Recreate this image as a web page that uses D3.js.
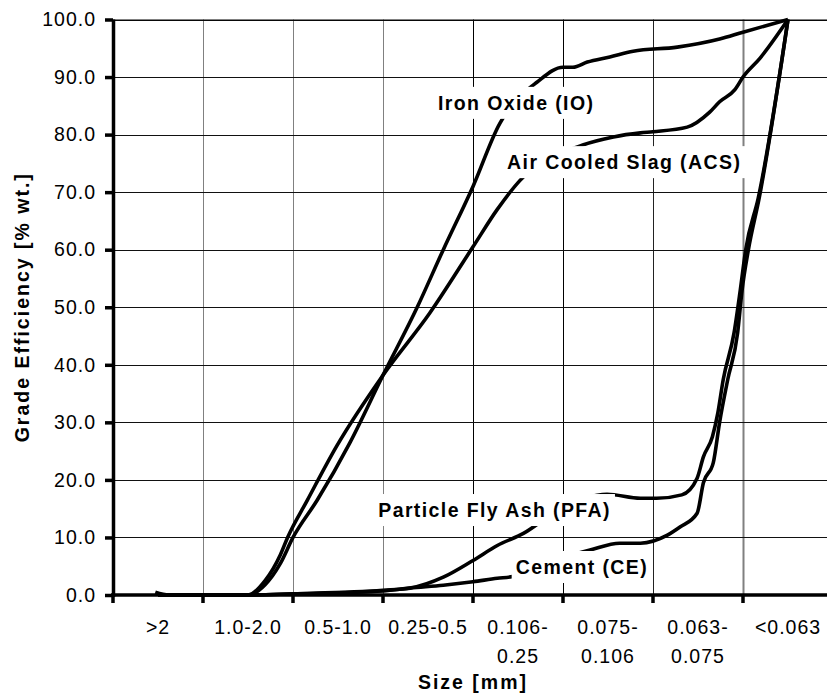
<!DOCTYPE html>
<html>
<head>
<meta charset="utf-8">
<script src="https://cdn.jsdelivr.net/npm/d3@7"></script>
<style>
  body { margin: 0; background: #fff; overflow: hidden; }
  svg { display: block; }
  text { font-family: "Liberation Sans", Arial, sans-serif; }
</style>
</head>
<body>
<svg id="chart"></svg>
<script>
// size classes on the x axis (multi-line labels as arrays)
const tickLabels = [[">2"], ["1.0-2.0"], ["0.5-1.0"], ["0.25-0.5"], ["0.106-", "0.25"], ["0.075-", "0.106"], ["0.063-", "0.075"], ["<0.063"]]
const yTicks = [0, 10, 20, 30, 40, 50, 60, 70, 80, 90, 100]

// positions are in category units (0 = ">2", 7 = "<0.063"), values in % wt.
const ioPos  = [0, 1, 1.19, 1.36, 1.5, 1.77, 2.13, 2.5, 2.88, 3.17, 3.5, 3.8, 3.88, 4.21, 4.5, 4.61, 4.77, 5.02, 5.28, 5.77, 6.24, 6.5, 7]
const ioVal  = [0, 0, 1.8, 5.5, 10, 16.5, 26.4, 38.2, 50, 60, 71, 82, 84, 89.1, 91.7, 91.7, 92.6, 93.5, 94.5, 95.2, 96.6, 97.8, 100]

const acsPos = [0, 1, 1.19, 1.36, 1.44, 1.66, 1.99, 2.5, 3.02, 3.5, 3.77, 4.02, 4.72, 5.06, 5.36, 5.5, 5.88, 6.13, 6.24, 6.41, 6.5, 6.69, 7]
const acsVal = [0, 0, 2.5, 7, 10, 16.5, 26, 38.2, 49, 60.5, 67, 72, 78.2, 79.6, 80.3, 80.5, 81.3, 83.9, 85.7, 87.8, 90, 93.3, 100]

const pfaPos = [0, 1, 1.5, 2.5, 2.8, 3.17, 3.5, 3.77, 4.06, 4.47, 4.99, 5.36, 5.54, 5.82, 5.99, 6.06, 6.16, 6.22, 6.28, 6.4, 6.47, 6.53, 6.67, 7]
const pfaVal = [0, 0, 0.2, 0.8, 1.2, 3.1, 6, 8.6, 10.7, 15, 17.5, 16.8, 16.8, 17.4, 20.3, 24, 27.5, 31.6, 37.4, 45.5, 53, 60, 69, 100]

const cePos  = [-0.03, 0.12, 1, 1.5, 2.5, 2.8, 3.17, 3.5, 3.77, 3.94, 4.3, 4.8, 5.13, 5.36, 5.66, 5.8, 5.99, 6.06, 6.17, 6.24, 6.33, 6.44, 6.49, 6.56, 6.68, 7]
const ceVal  = [0.5, 0, 0, 0.2, 0.7, 1.2, 1.7, 2.3, 2.9, 3.2, 5.5, 7.8, 9, 9, 10.4, 11.8, 14.2, 19.5, 23, 30, 37.4, 45.5, 53, 60, 69, 100]

// series label text and where it sits (category units, % wt. at baseline)
const seriesNames = ["Iron Oxide (IO)", "Air Cooled Slag (ACS)", "Particle Fly Ash (PFA)", "Cement (CE)"]
const labelPos = [3.98, 5.18, 3.74, 4.71]
const labelVal = [84.3, 74.0, 13.55, 3.65]

const width = 827
const height = 695
const margin = {top: 19.5, left: 113, bottom: 100}
const plotRight = 833   // plot area runs a bit past the picture edge

const svg = d3.select("#chart")
    .attr("width", width)
    .attr("height", height)
    .attr("viewBox", [0, 0, width, height])

const x = d3.scaleLinear().domain([-0.5, 7.5]).range([margin.left, plotRight])
const y = d3.scaleLinear().domain([0, 100]).range([height - margin.bottom, margin.top])

// grid
const vGridColor = ["#808080", "#808080", "#808080", "#000", "#000", "#222", "#808080"]
svg.append("g")
  .selectAll("line")
  .data(d3.range(1, 8).map(i => i - 0.5))
  .join("line")
    .attr("x1", d => Math.round(x(d)) + 0.5)
    .attr("x2", d => Math.round(x(d)) + 0.5)
    .attr("y1", y(100))
    .attr("y2", y(0))
    .attr("stroke", (d, i) => vGridColor[i])
    .attr("stroke-width", (d, i) => i == 6 ? 2 : 1)

svg.append("g")
  .selectAll("line")
  .data(yTicks.slice(1))
  .join("line")
    .attr("x1", margin.left)
    .attr("x2", plotRight)
    .attr("y1", d => Math.round(y(d)) + 0.5)
    .attr("y2", d => Math.round(y(d)) + 0.5)
    .attr("stroke", "#111")

// curves
const series = [
  d3.zip(ioPos, ioVal),
  d3.zip(acsPos, acsVal),
  d3.zip(pfaPos, pfaVal),
  d3.zip(cePos, ceVal)
]

const line = d3.line()
    .x(d => x(d[0]))
    .y(d => y(d[1]))
    .curve(d3.curveMonotoneX)

svg.append("g")
  .selectAll("path")
  .data(series)
  .join("path")
    .attr("d", line)
    .attr("fill", "none")
    .attr("stroke", "#000")
    .attr("stroke-width", 3.6)
    .attr("stroke-linejoin", "round")

// series labels on white boxes
const labels = svg.append("g")
  .selectAll("g")
  .data(seriesNames)
  .join("g")

labels.append("rect").attr("fill", "#fff")
labels.append("text")
    .attr("x", (d, i) => x(labelPos[i]))
    .attr("y", (d, i) => y(labelVal[i]))
    .attr("text-anchor", "middle")
    .attr("font-size", 19.5)
    .attr("font-weight", "bold")
    .attr("letter-spacing", 1.4)
    .text(d => d)

labels.each(function() {
  const g = d3.select(this)
  const b = g.select("text").node().getBBox()
  g.select("rect")
    .attr("x", b.x - 4)
    .attr("y", b.y - 5)
    .attr("width", b.width + 8)
    .attr("height", b.height + 10)
})

// y axis
const yAxis = svg.append("g")
    .attr("transform", `translate(${margin.left},0)`)
    .call(d3.axisLeft(y)
        .tickValues(yTicks)
        .tickFormat(d3.format(".1f"))
        .tickSize(8)
        .tickPadding(9))
yAxis.select(".domain").attr("stroke-width", 3.5).attr("d", `M0.5,${y(0) + 2}V${y(100)}`)
yAxis.selectAll(".tick line").attr("stroke-width", 3.5)
yAxis.selectAll(".tick text")
    .attr("font-size", 19.5)
    .attr("font-family", null)
    .attr("letter-spacing", 1)
    .attr("fill", "#000")

// top border
svg.append("line")
    .attr("x1", margin.left).attr("x2", plotRight)
    .attr("y1", y(100) + 0.5).attr("y2", y(100) + 0.5)
    .attr("stroke", "#000")

// x axis: baseline, boundary ticks, centred category labels
const xAxis = svg.append("g").attr("transform", `translate(0,${y(0)})`)
xAxis.append("line")
    .attr("x1", margin.left - 2).attr("x2", plotRight)
    .attr("stroke", "#000").attr("stroke-width", 3.5)
xAxis.selectAll(".xtick")
  .data(d3.range(0, 8).map(i => i - 0.5))
  .join("line")
    .attr("class", "xtick")
    .attr("x1", d => x(d)).attr("x2", d => x(d))
    .attr("y1", 0).attr("y2", 8)
    .attr("stroke", "#000").attr("stroke-width", 3.5)
xAxis.selectAll(".xlab")
  .data(tickLabels)
  .join("text")
    .attr("class", "xlab")
    .attr("transform", (d, i) => `translate(${x(i)},39)`)
    .attr("text-anchor", "middle")
    .attr("font-size", 19.5)
    .attr("letter-spacing", 1)
    .each(function(d) {
      const t = d3.select(this)
      d.forEach((s, k) => {
        t.append("tspan").attr("x", 0).attr("dy", k == 0 ? 0 : 29).text(s)
      })
    })

// titles
svg.append("text")
    .attr("x", (margin.left + plotRight) / 2)
    .attr("y", 689)
    .attr("text-anchor", "middle")
    .attr("font-size", 19.5)
    .attr("font-weight", "bold")
    .attr("letter-spacing", 2)
    .text("Size [mm]")

svg.append("text")
    .attr("transform", `translate(22,${(y(0) + y(100)) / 2}) rotate(-90)`)
    .attr("text-anchor", "middle")
    .attr("dy", "0.35em")
    .attr("font-size", 19.5)
    .attr("font-weight", "bold")
    .attr("letter-spacing", 2)
    .text("Grade Efficiency [% wt.]")
</script>
</body>
</html>
